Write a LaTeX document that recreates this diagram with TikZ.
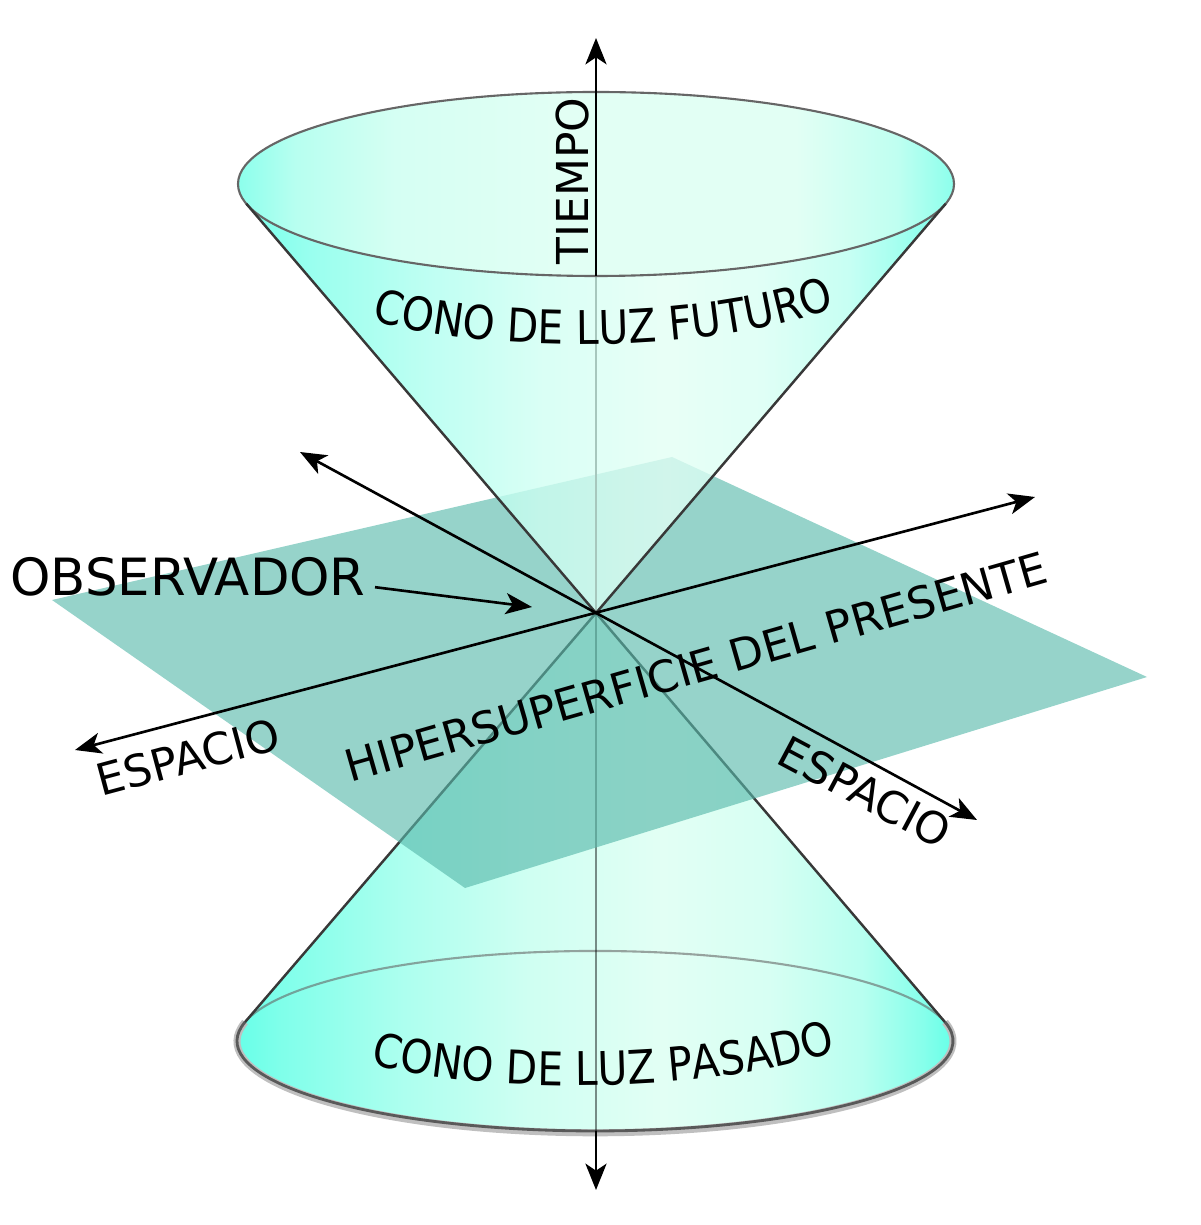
\documentclass[tikz,border=0pt]{standalone}
\usepackage{fontspec}
\setmainfont{DejaVu Sans}
\newfontfamily\estrecha[FakeStretch=0.88]{DejaVu Sans}
\usetikzlibrary{arrows.meta,decorations.text}
\definecolor{conoborde}{RGB}{85,255,230}
\definecolor{conoclaro}{RGB}{226,255,244}
\definecolor{tapaborde}{RGB}{140,255,236}
\definecolor{planocol}{RGB}{88,185,171}
\pgfdeclarehorizontalshading{cono}{100bp}{color(0bp)=(conoborde); color(25bp)=(conoborde); color(30bp)=(conoborde!70!conoclaro); color(38bp)=(conoborde!38!conoclaro); color(46bp)=(conoborde!14!conoclaro); color(55bp)=(conoclaro); color(62bp)=(conoborde!8!conoclaro); color(68bp)=(conoborde!30!conoclaro); color(72bp)=(conoborde!65!conoclaro); color(75bp)=(conoborde); color(100bp)=(conoborde)}
\pgfdeclarehorizontalshading{tapa}{100bp}{color(0bp)=(tapaborde); color(25bp)=(tapaborde); color(29bp)=(tapaborde!50!conoclaro); color(36bp)=(tapaborde!15!conoclaro); color(48bp)=(conoclaro); color(64bp)=(conoclaro); color(71bp)=(tapaborde!40!conoclaro); color(75bp)=(tapaborde); color(100bp)=(tapaborde)}
\newcommand{\rotulocono}{\estrecha\fontsize{13.2pt}{15pt}\selectfont}
\begin{document}
\begin{tikzpicture}[x=0.01cm,y=0.01cm,
  >={Stealth[length=7.5pt,width=6pt,inset=2pt]},
  eje/.style={line width=0.75pt},
  generatriz/.style={draw=black!78, line width=0.7pt},
  aro/.style={draw=black!60, line width=0.6pt},
  rotulo/.style={font=\fontsize{12.5pt}{15pt}\selectfont, inner sep=0pt}]
\useasboundingbox (0,0) rectangle (1200,-1225);
% puntos del dibujo
\coordinate (obs) at (596,-613);
\coordinate (tsup) at (596,-38);
\coordinate (tborde) at (596,-276);
\coordinate (tbase) at (596,-1131);
\coordinate (tinf) at (596,-1190);
\coordinate (ctapa) at (596,-184);
\coordinate (cbase) at (595,-1041);
\coordinate (ci) at (246.3,-203.7);
\coordinate (cd) at (945.7,-203.7);
\coordinate (pi) at (245,-1022.1);
\coordinate (pd) at (945,-1022.1);
\coordinate (p1) at (52,-600);
\coordinate (p2) at (672,-457);
\coordinate (p3) at (1147,-677);
\coordinate (p4) at (465,-888);
\coordinate (esp1a) at (75,-750);
\coordinate (esp1b) at (1035,-497);
\coordinate (esp2a) at (300,-452);
\coordinate (esp2b) at (977,-820);
\coordinate (obsflecha) at (532,-607);
% cono pasado
\shade[shading=cono] (obs) -- (pi) arc[start angle=167.9, end angle=372.1, x radius=358, y radius=90] -- cycle;
\draw[aro, draw opacity=.6] (pd) arc[start angle=12.1, end angle=167.9, x radius=358, y radius=90];
\draw[draw=black!25, line width=2pt] (pi) arc[start angle=167.9, end angle=372.1, x radius=358, y radius=91.5];
\draw[draw=black!65, line width=0.8pt] (pi) arc[start angle=167.9, end angle=372.1, x radius=358, y radius=90];
\draw[generatriz] (pi) -- (obs) -- (pd);
\draw[eje, draw opacity=.45] (obs) -- (tbase);
% hipersuperficie
\fill[planocol, fill opacity=.63] (p1) -- (p2) -- (p3) -- (p4) -- cycle;
% cono futuro
\draw[eje] (tborde) -- (obs);
\shade[shading=cono, fill opacity=.78] (obs) -- (ci) arc[start angle=192.4, end angle=347.6, x radius=358, y radius=92] -- cycle;
\shade[shading=tapa] (ctapa) ellipse[x radius=358, y radius=92];
\draw[aro] (ctapa) ellipse[x radius=358, y radius=92];
\draw[generatriz] (ci) -- (obs) -- (cd);
% ejes
\draw[eje, ->] (tborde) -- (tsup);
\draw[eje, ->] (tbase) -- (tinf);
\draw[eje, <->] (esp1a) -- (esp1b);
\draw[eje, <->] (esp2a) -- (esp2b);
% textos
\node[rotulo, rotate=90] (tiempo) at (572,-181) {TIEMPO};
\node[rotulo, rotate=15] (espacioizq) at (188,-757) {ESPACIO};
\node[rotulo, rotate=-28] (espacioder) at (865,-792) {ESPACIO};
\node[rotulo, rotate=16] (hiper) at (696,-667) {HIPERSUPERFICIE DEL PRESENTE};
\node[font=\fontsize{14.6pt}{17pt}\selectfont, inner sep=0pt] (observador) at (188,-577) {OBSERVADOR};
\draw[eje, ->, shorten <=2.5pt] (observador.mid east) -- (obsflecha);
\path[decorate, decoration={text along path, text align=center, text={|\rotulocono|CONO DE LUZ FUTURO}}] (365,-318) .. controls (480,-354) and (700,-356) .. (842,-306);
\path[decorate, decoration={text along path, text align=center, text={|\rotulocono|CONO DE LUZ PASADO}}] (365,-1063) .. controls (480,-1094) and (700,-1096) .. (842,-1050);
\end{tikzpicture}
\end{document}
